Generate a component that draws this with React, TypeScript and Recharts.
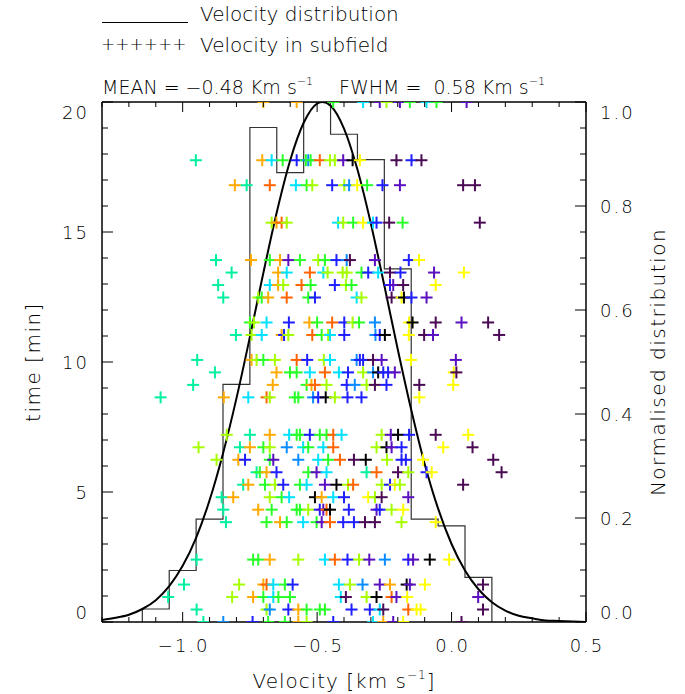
import { ComposedChart, XAxis, YAxis, Line, Scatter } from "recharts"

const FONT = "'DejaVu Sans', sans-serif"
const WEIGHT = 200

// subfield colours (rainbow colour table)
const palette: Record<string, string> = {
  K: "#000000",
  D: "#4b0a55",
  P: "#5a10c0",
  B: "#1e1eff",
  A: "#0a8cff",
  C: "#00e1ff",
  M: "#00f0a0",
  G: "#28ff28",
  L: "#a5ff00",
  Y: "#ffff00",
  O: "#ffaa00",
  R: "#ff6400",
}

// time of each frame [min]
const rowTimes = [20.0, 17.76, 16.8, 15.36, 13.92, 13.44, 12.96, 12.48, 11.52, 11.04, 10.08, 9.6, 9.12, 8.64,
  7.2, 6.72, 6.24, 5.76, 5.28, 4.8, 4.32, 3.84, 2.4, 1.44, 0.96, 0.48, 0]

// velocity of each subfield in the frame [km/s]
const rowVelocities = [
  [-0.7, -0.576, -0.44, -0.329, -0.267, -0.242, -0.192, -0.155, -0.093, -0.056, 0.056],
  [-0.951, -0.704, -0.669, -0.628, -0.576, -0.542, -0.533, -0.524, -0.49, -0.452, -0.434, -0.403, -0.368, -0.341, -0.205, -0.149, -0.112],
  [-0.806, -0.762, -0.676, -0.579, -0.539, -0.518, -0.444, -0.399, -0.381, -0.351, -0.314, -0.257, -0.192, 0.043, 0.087],
  [-0.669, -0.651, -0.632, -0.613, -0.422, -0.403, -0.366, -0.329, -0.292, -0.279, -0.232, -0.182, 0.105],
  [-0.876, -0.746, -0.676, -0.638, -0.607, -0.564, -0.496, -0.471, -0.428, -0.39, -0.378, -0.285, -0.159, -0.121],
  [-0.818, -0.645, -0.613, -0.527, -0.477, -0.461, -0.405, -0.39, -0.335, -0.31, -0.273, -0.229, -0.19, -0.065, 0.046],
  [-0.868, -0.676, -0.645, -0.626, -0.558, -0.524, -0.434, -0.393, -0.372, -0.229, -0.217, -0.18, -0.059],
  [-0.849, -0.719, -0.706, -0.682, -0.613, -0.533, -0.508, -0.353, -0.335, -0.223, -0.186, -0.177, -0.149, -0.093],
  [-0.75, -0.735, -0.688, -0.605, -0.529, -0.5, -0.444, -0.399, -0.368, -0.344, -0.285, -0.158, -0.145, -0.059, 0.037, 0.136],
  [-0.802, -0.744, -0.706, -0.632, -0.623, -0.607, -0.518, -0.483, -0.459, -0.452, -0.399, -0.283, -0.267, -0.248, -0.159, -0.102, -0.069, 0.177],
  [-0.946, -0.744, -0.725, -0.7, -0.657, -0.576, -0.537, -0.475, -0.452, -0.353, -0.341, -0.329, -0.292, -0.26, -0.151, 0.016],
  [-0.88, -0.651, -0.601, -0.576, -0.527, -0.471, -0.419, -0.385, -0.329, -0.292, -0.273, -0.254, -0.236, -0.211, 0.008, 0.018],
  [-0.961, -0.665, -0.539, -0.521, -0.508, -0.465, -0.39, -0.36, -0.316, -0.285, -0.242, -0.12, 0.006],
  [-1.082, -0.847, -0.756, -0.688, -0.676, -0.583, -0.57, -0.515, -0.496, -0.468, -0.434, -0.387, -0.335, -0.12],
  [-0.836, -0.75, -0.676, -0.604, -0.576, -0.564, -0.527, -0.49, -0.465, -0.44, -0.409, -0.26, -0.226, -0.199, -0.158, -0.059, 0.062],
  [-0.941, -0.787, -0.75, -0.7, -0.676, -0.613, -0.552, -0.533, -0.477, -0.44, -0.279, -0.242, -0.223, -0.186, -0.031, 0.078],
  [-0.874, -0.793, -0.768, -0.676, -0.663, -0.57, -0.496, -0.459, -0.415, -0.363, -0.319, -0.24, -0.186, -0.17, -0.106, 0.155],
  [-0.725, -0.713, -0.688, -0.651, -0.533, -0.502, -0.465, -0.316, -0.279, -0.199, -0.161, -0.093, -0.074, 0.186],
  [-0.775, -0.756, -0.694, -0.657, -0.626, -0.564, -0.539, -0.471, -0.428, -0.385, -0.366, -0.26, -0.229, -0.211, -0.192, 0.043],
  [-0.855, -0.812, -0.676, -0.632, -0.604, -0.508, -0.483, -0.44, -0.4, -0.31, -0.285, -0.26, -0.161],
  [-0.849, -0.719, -0.669, -0.576, -0.564, -0.533, -0.49, -0.477, -0.465, -0.452, -0.382, -0.279, -0.267, -0.223, -0.18],
  [-0.839, -0.688, -0.638, -0.613, -0.552, -0.502, -0.483, -0.452, -0.403, -0.363, -0.322, -0.285, -0.186, -0.059],
  [-0.948, -0.738, -0.719, -0.676, -0.57, -0.471, -0.434, -0.387, -0.344, -0.306, -0.248, -0.161, -0.143, -0.081, -0.009],
  [-0.995, -0.79, -0.7, -0.688, -0.663, -0.62, -0.591, -0.419, -0.378, -0.331, -0.267, -0.229, -0.167, -0.155, -0.099, 0.117],
  [-1.054, -0.816, -0.738, -0.7, -0.663, -0.644, -0.601, -0.412, -0.393, -0.316, -0.279, -0.223, -0.205, -0.165, 0.099],
  [-0.948, -0.688, -0.676, -0.607, -0.57, -0.539, -0.49, -0.471, -0.372, -0.304, -0.267, -0.254, -0.161, -0.13, -0.115, 0.117],
  [-0.923, -0.849, -0.74, -0.682, -0.62, -0.57, -0.539, -0.44, -0.292, -0.254, -0.217, -0.18, 0.037],
]

// one palette letter per subfield, same order as rowVelocities
const rowColours = [
  "OOGCPLPGCGP",
  "MOCGBGAGRLLPKYDBD",
  "OMRCGLBLAYGBPDD",
  "LORLCLGYCBDGD",
  "MOGOPGLGBADPBY",
  "MOCRCLLLGBCDBPY",
  "MCOLRGBLGBPDY",
  "MLGORGBCLDYKBP",
  "GLCBOGRBLGAYKDPD",
  "MLCOBLRGLCBABKYDPD",
  "MOLGLRBLCABBDPYP",
  "MOGGCRCBLAKBBPYD",
  "MOGORLBALDBDY",
  "MOCRLGGABKLBBY",
  "LMOCGGBGGRCLPKBDY",
  "LMOGLACGCRLKPBYD",
  "LOBGPACGRDKLBBYD",
  "MGOBGPCMRDLBYD",
  "MOGLBGCPKLRLBYLD",
  "MOLGCKOCBYLDP",
  "MOGGGLBPRKBPBLY",
  "MGOGCGPRBBDDLY",
  "MGGOLCRBLPABPKY",
  "MLORCGBCLAPOKPYD",
  "MLOGCGGCDLKRPYP",
  "MLABOGGGBBCDRYYD",
  "MABGGOLBCOPYD",
]

// histogram of velocities (normalised)
const binEdges = [-1.15, -1.05, -0.95, -0.85, -0.75, -0.65, -0.55, -0.45, -0.35, -0.25, -0.15, -0.05, 0.05, 0.15]
const binHeights = [0.025, 0.099, 0.198, 0.457, 0.951, 0.864, 1.0, 0.938, 0.889, 0.679, 0.198, 0.185, 0.086]

// fitted curve
const fitVelocity = [-1.3, -1.25, -1.2, -1.15, -1.1, -1.05, -1.0, -0.95, -0.9, -0.85, -0.8, -0.75, -0.7, -0.65,
  -0.6, -0.55, -0.5, -0.48, -0.45, -0.4, -0.35, -0.3, -0.25, -0.2, -0.15, -0.1, -0.05, 0.0, 0.05, 0.1, 0.15,
  0.2, 0.25, 0.3, 0.35, 0.4, 0.45, 0.5]
const fitValue = [0.004, 0.008, 0.014, 0.025, 0.042, 0.069, 0.108, 0.162, 0.234, 0.324, 0.43, 0.548, 0.671, 0.788,
  0.888, 0.96, 0.997, 1.0, 0.993, 0.949, 0.87, 0.766, 0.647, 0.524, 0.408, 0.304, 0.218, 0.15, 0.099, 0.063, 0.038,
  0.022, 0.012, 0.007, 0.003, 0.002, 0.001, 0.0]

const xTicks = [-1.3, -1.2, -1.1, -1.0, -0.9, -0.8, -0.7, -0.6, -0.5, -0.4, -0.3, -0.2, -0.1, 0, 0.1, 0.2, 0.3, 0.4, 0.5]
const timeTicks = [0, 1, 2, 3, 4, 5, 6, 7, 8, 9, 10, 11, 12, 13, 14, 15, 16, 17, 18, 19, 20]
const normTicks = [0, 0.05, 0.1, 0.15, 0.2, 0.25, 0.3, 0.35, 0.4, 0.45, 0.5, 0.55, 0.6, 0.65, 0.7, 0.75, 0.8,
  0.85, 0.9, 0.95, 1.0]

const subfieldPoints = rowTimes.flatMap((t, i) =>
  rowVelocities[i].map((x, j) => ({ x, t, c: palette[rowColours[i][j]] ?? "#000" }))
)

const histogram = [
  { x: binEdges[0], n: 0 },
  ...binHeights.map((n, i) => ({ x: binEdges[i], n })),
  { x: binEdges[binEdges.length - 1], n: 0 },
]

const fitCurve = fitVelocity.map((x, i) => ({ x, n: fitValue[i] }))

const onStep = (v: number, step: number) => Math.abs(v / step - Math.round(v / step)) < 1e-6
const fmt = (v: number, d: number) => (v < -1e-9 ? "\u2212" : "") + Math.abs(v).toFixed(d)

const labelStyle = { fontFamily: FONT, fontWeight: WEIGHT, fontSize: 18, letterSpacing: 2, fill: "#000" }

function BottomTick(p: any) {
  const major = onStep(p.payload.value, 0.5)
  return (
    <g>
      <line x1={p.x} y1={p.y} x2={p.x} y2={p.y - (major ? 10 : 5)} stroke="#000" />
      {major && (
        <text x={p.x + 1} y={p.y + 30} textAnchor="middle" style={labelStyle}>
          {fmt(p.payload.value, 1)}
        </text>
      )}
    </g>
  )
}

function TopTick(p: any) {
  const major = onStep(p.payload.value, 0.5)
  return <line x1={p.x} y1={p.y} x2={p.x} y2={p.y + (major ? 10 : 5)} stroke="#000" />
}

function LeftTick(p: any) {
  const v = p.payload.value
  const major = onStep(v, 5)
  const shift = v === 20 ? 10 : v === 0 ? -10 : 0
  return (
    <g>
      <line x1={p.x} y1={p.y} x2={p.x + (major ? 11 : 6)} y2={p.y} stroke="#000" />
      {major && (
        <text x={p.x - 13} y={p.y + shift + 6.5} textAnchor="end" style={labelStyle}>
          {String(v)}
        </text>
      )}
    </g>
  )
}

function RightTick(p: any) {
  const v = p.payload.value
  const major = onStep(v, 0.2)
  const shift = v === 1 ? 10 : v === 0 ? -10 : 0
  return (
    <g>
      <line x1={p.x} y1={p.y} x2={p.x - (major ? 11 : 6)} y2={p.y} stroke="#000" />
      {major && (
        <text x={p.x + 14} y={p.y + shift + 6.5} textAnchor="start" style={labelStyle}>
          {fmt(v, 1)}
        </text>
      )}
    </g>
  )
}

function Plus(p: any) {
  if (p.cx == null || p.cy == null) return null
  const c = p.payload?.c ?? "#000"
  return (
    <g stroke={c} strokeWidth={2}>
      <line x1={p.cx - 6} y1={p.cy} x2={p.cx + 6} y2={p.cy} />
      <line x1={p.cx} y1={p.cy - 6} x2={p.cx} y2={p.cy + 6} />
    </g>
  )
}

const axisLine = { stroke: "#000", strokeWidth: 1.5 }

export default function App() {
  return (
    <div style={{ position: "fixed", left: 0, top: 0, width: 685, height: 694, background: "#fff" }}>
      <ComposedChart width={685} height={694} margin={{ top: 101, right: 39, bottom: 32, left: 42 }}>
        <XAxis
          type="number"
          dataKey="x"
          domain={[-1.3, 0.5]}
          allowDataOverflow
          ticks={xTicks}
          interval={0}
          tickSize={0}
          tickMargin={0}
          tickLine={false}
          axisLine={axisLine}
          height={40}
          tick={(p: any) => <BottomTick {...p} />}
        />
        <XAxis
          xAxisId="top"
          orientation="top"
          type="number"
          dataKey="x"
          domain={[-1.3, 0.5]}
          allowDataOverflow
          ticks={xTicks}
          interval={0}
          tickSize={0}
          tickMargin={0}
          tickLine={false}
          axisLine={axisLine}
          height={1}
          tick={(p: any) => <TopTick {...p} />}
        />
        <YAxis
          yAxisId="t"
          orientation="left"
          type="number"
          domain={[0, 20]}
          allowDataOverflow
          ticks={timeTicks}
          interval={0}
          tickSize={0}
          tickMargin={0}
          tickLine={false}
          axisLine={axisLine}
          width={60}
          tick={(p: any) => <LeftTick {...p} />}
        />
        <YAxis
          yAxisId="n"
          orientation="right"
          type="number"
          domain={[0, 1]}
          allowDataOverflow
          ticks={normTicks}
          interval={0}
          tickSize={0}
          tickMargin={0}
          tickLine={false}
          axisLine={axisLine}
          width={60}
          tick={(p: any) => <RightTick {...p} />}
        />
        <Scatter
          yAxisId="t"
          data={subfieldPoints}
          dataKey="t"
          isAnimationActive={false}
          shape={(p: any) => <Plus {...p} />}
        />
        <Line
          yAxisId="n"
          data={histogram}
          dataKey="n"
          type="stepAfter"
          stroke="#333"
          strokeWidth={1.2}
          dot={false}
          activeDot={false}
          isAnimationActive={false}
        />
        <Line
          yAxisId="n"
          data={fitCurve}
          dataKey="n"
          type="monotone"
          stroke="#000"
          strokeWidth={2}
          dot={false}
          activeDot={false}
          isAnimationActive={false}
        />
      </ComposedChart>

      <svg
        width={685}
        height={694}
        style={{ position: "absolute", left: 0, top: 0, pointerEvents: "none" }}
        fontFamily={FONT}
        fontWeight={WEIGHT}
        fill="#000"
      >
        <line x1={102} y1={22.5} x2={188} y2={22.5} stroke="#000" strokeWidth={1} />
        <text x={200} y={21} fontSize={20}>Velocity distribution</text>
        <text x={101} y={50} fontSize={17}>++++++</text>
        <text x={200} y={52} fontSize={20}>Velocity in subfield</text>
        <text x={102} y={94} fontSize={19} style={{ whiteSpace: "pre" }}>
          MEAN = {"\u2212"}0.48 Km s<tspan dy={-9} fontSize={11}>{"\u2212"}1</tspan>
        </text>
        <text x={339} y={94} fontSize={19} style={{ whiteSpace: "pre" }}>
          {"FWHM =  0.58 Km s"}<tspan dy={-9} fontSize={11}>{"\u2212"}1</tspan>
        </text>
        <text x={344} y={688} fontSize={20} textAnchor="middle" letterSpacing={1}>
          Velocity [km s<tspan dy={-9} fontSize={12}>{"\u2212"}1</tspan><tspan dy={9}>]</tspan>
        </text>
        <text x={33} y={362} fontSize={20} textAnchor="middle" dominantBaseline="central" letterSpacing={1.5}
          transform="rotate(-90, 33, 362)">
          time [min]
        </text>
        <text x={658} y={362} fontSize={20} textAnchor="middle" dominantBaseline="central" letterSpacing={1.5}
          transform="rotate(-90, 658, 362)">
          Normalised distribution
        </text>
      </svg>
    </div>
  )
}
